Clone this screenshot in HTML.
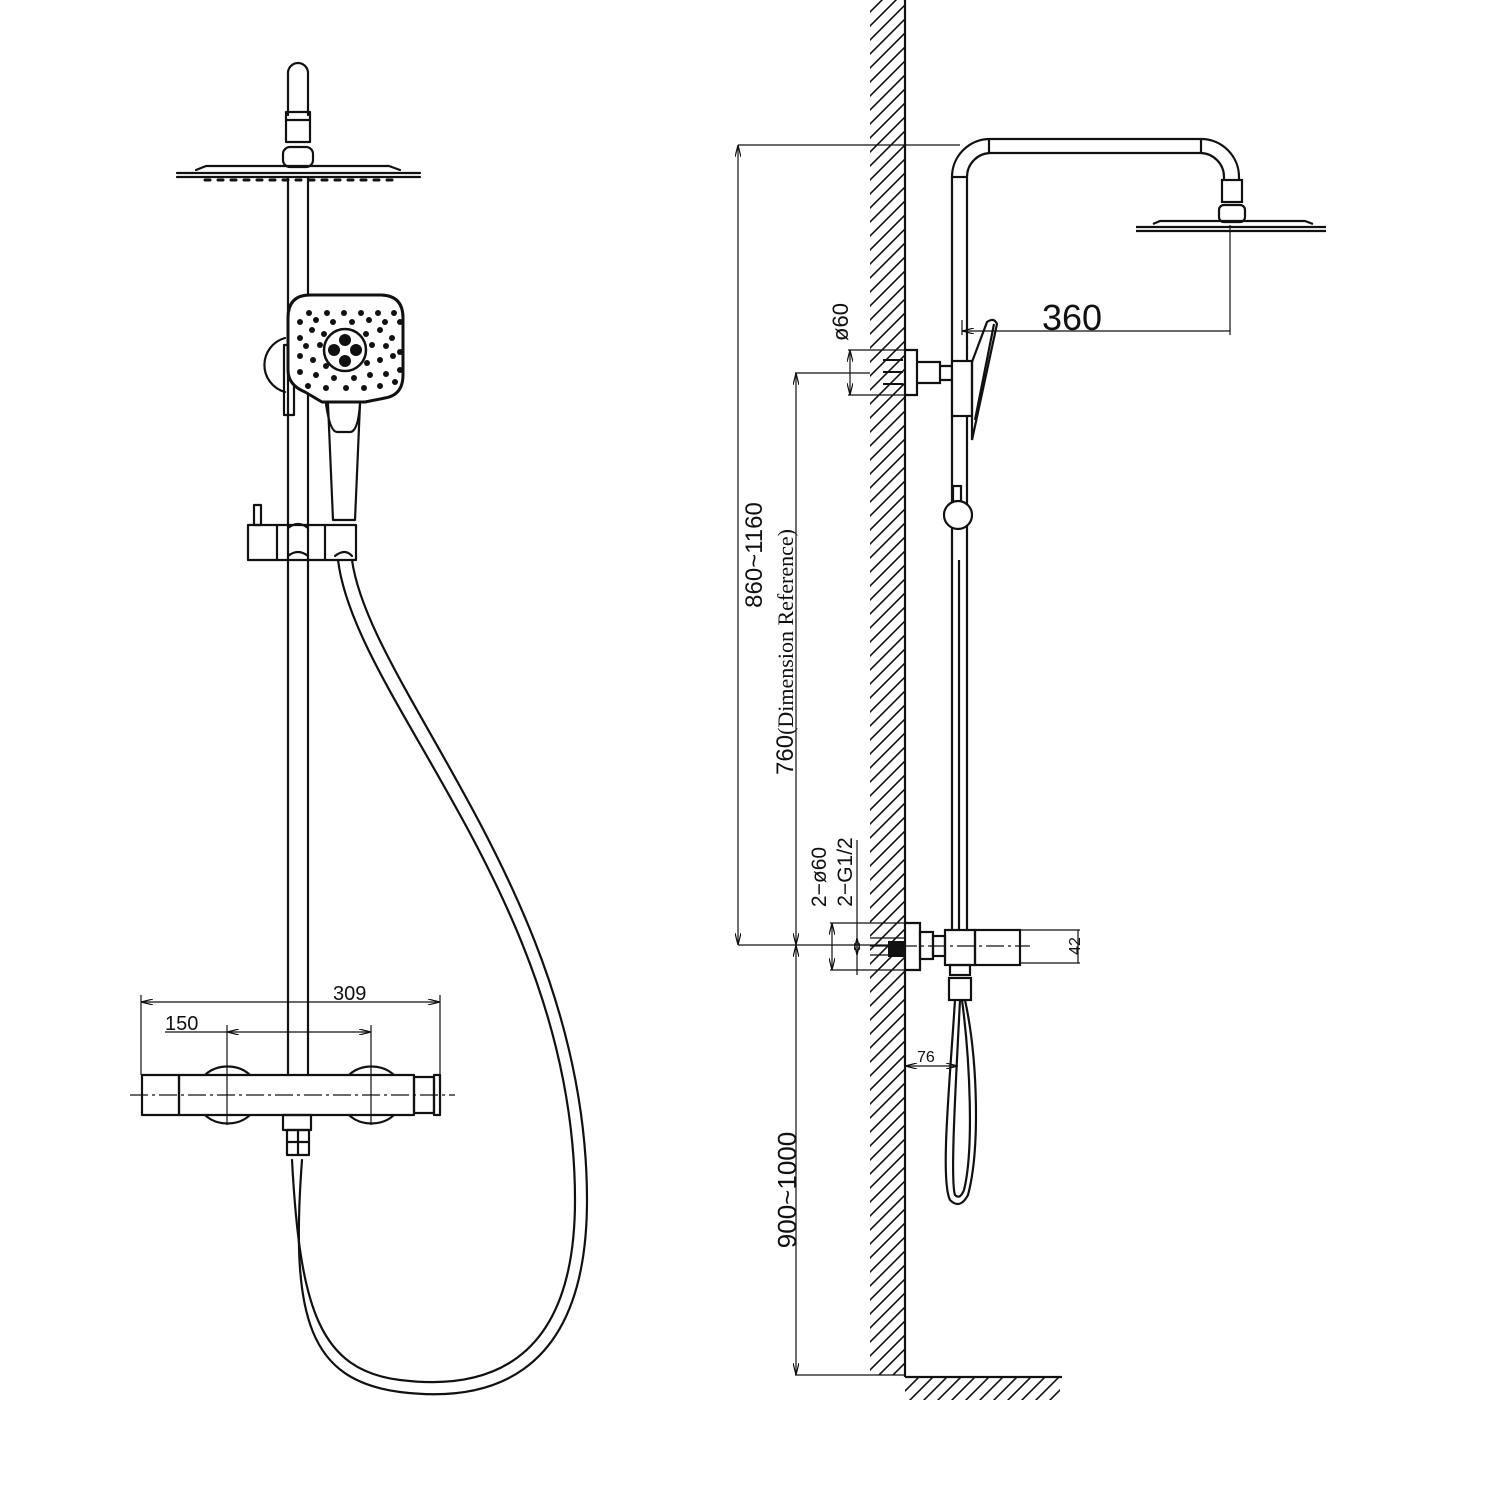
<!DOCTYPE html>
<html><head><meta charset="utf-8"><style>
html,body{margin:0;padding:0;background:#fff;}
svg{display:block;}
text{font-family:"Liberation Sans",sans-serif;fill:#111;}
</style></head><body>
<svg width="1512" height="1512" viewBox="0 0 1512 1512" xmlns="http://www.w3.org/2000/svg">
<defs>
<pattern id="hatch" width="14" height="14" patternUnits="userSpaceOnUse">
<path d="M-2,16 L16,-2 M-9,9 L9,-9 M5,23 L23,5" stroke="#111" stroke-width="1.6"/>
</pattern>
<marker id="ar" markerWidth="12" markerHeight="6" refX="12" refY="3" orient="auto-start-reverse" markerUnits="userSpaceOnUse">
<path d="M0,0 L12,3 L0,6" fill="none" stroke="#111" stroke-width="1.2"/>
</marker>
</defs>
<g fill="none" stroke="#111" stroke-width="2.2" stroke-linecap="round" stroke-linejoin="round">
<path d="M288,115 L288,73 A10,10 0 0 1 308,73 L308,115"/>
<rect x="286" y="112" width="24" height="30"/>
<line x1="286" y1="120" x2="310" y2="120"/>
<rect x="283" y="147" width="30" height="20" rx="7"/>
<path d="M177,173 L420,173 M177,177 L420,177 M196,170 L206,166 L389,166 L400,170"/>
<g stroke-width="3" stroke-dasharray="5,8"><line x1="205" y1="180" x2="395" y2="180"/></g>
<line x1="288" y1="177" x2="288" y2="1075"/>
<line x1="308" y1="177" x2="308" y2="1075"/>
<path d="M285,338 A28,28 0 0 0 285,392"/>
<rect x="284" y="345" width="10" height="70"/>
<path d="M310,295 L380,295 Q403,295 403,318 L403,375 Q403,395 385,398 L365,402 L322,402 L305,392 Q288,385 288,370 L288,318 Q288,295 310,295Z" stroke-width="3" fill="#fff"/>
<path d="M326,404 Q330,432 337,432 L350,432 Q358,432 360,404"/>
<path d="M328,404 L333,520 L355,520 L360,404"/>
<circle cx="345" cy="350" r="21" stroke-width="2.5"/>
<g fill="#111" stroke="none">
<circle cx="345" cy="340" r="6"/><circle cx="345" cy="361" r="6"/><circle cx="334" cy="350" r="6"/><circle cx="356" cy="350" r="6"/>
<circle cx="309" cy="313" r="3"/><circle cx="327" cy="313" r="3"/><circle cx="344" cy="313" r="3"/><circle cx="361" cy="313" r="3"/><circle cx="378" cy="313" r="3"/><circle cx="394" cy="313" r="3"/>
<circle cx="300" cy="322" r="3"/><circle cx="316" cy="320" r="3"/><circle cx="333" cy="322" r="3"/><circle cx="352" cy="322" r="3"/><circle cx="369" cy="320" r="3"/><circle cx="385" cy="322" r="3"/><circle cx="400" cy="322" r="3"/>
<circle cx="300" cy="338" r="3"/><circle cx="312" cy="330" r="3"/><circle cx="324" cy="334" r="3"/><circle cx="366" cy="334" r="3"/><circle cx="380" cy="330" r="3"/><circle cx="392" cy="338" r="3"/>
<circle cx="306" cy="346" r="3"/><circle cx="320" cy="345" r="3"/><circle cx="372" cy="345" r="3"/><circle cx="386" cy="346" r="3"/><circle cx="400" cy="352" r="3"/>
<circle cx="300" cy="356" r="3"/><circle cx="313" cy="360" r="3"/><circle cx="326" cy="366" r="3"/><circle cx="367" cy="363" r="3"/><circle cx="380" cy="360" r="3"/><circle cx="393" cy="356" r="3"/>
<circle cx="300" cy="372" r="3"/><circle cx="316" cy="375" r="3"/><circle cx="334" cy="378" r="3"/><circle cx="354" cy="378" r="3"/><circle cx="370" cy="375" r="3"/><circle cx="386" cy="374" r="3"/><circle cx="400" cy="370" r="3"/>
<circle cx="308" cy="386" r="3"/><circle cx="326" cy="388" r="3"/><circle cx="346" cy="388" r="3"/><circle cx="364" cy="388" r="3"/><circle cx="380" cy="386" r="3"/><circle cx="395" cy="382" r="3"/>
</g>
<rect x="254" y="505" width="7" height="20"/>
<path d="M248,525 L356,525 L356,560 L248,560 Z M277,525 L277,560 M325,525 L325,560"/>
<path d="M288,528 Q298,520 308,528 M288,556 Q298,548 308,556 M335,556 Q345,548 352,556"/>
<path d="M338,560 C355,700 575,900 575,1200 C575,1370 480,1390 400,1380 C320,1370 300,1310 292,1160"/>
<path d="M352,560 C370,690 587,900 587,1200 C587,1385 480,1402 400,1392 C310,1380 290,1320 302,1160"/>
<rect x="142" y="1075" width="37" height="40"/>
<rect x="179" y="1075" width="235" height="40"/>
<rect x="414" y="1077" width="20" height="36"/>
<rect x="434" y="1075" width="6" height="40"/>
<path d="M205,1075 A30,25 0 0 1 250,1075 M205,1115 A30,25 0 0 0 250,1115 M349,1075 A30,25 0 0 1 394,1075 M349,1115 A30,25 0 0 0 394,1115"/>
<rect x="283" y="1115" width="28" height="15"/>
<rect x="287" y="1130" width="22" height="25"/>
<line x1="287" y1="1142" x2="309" y2="1142"/>
<line x1="298" y1="1130" x2="298" y2="1155"/>
</g>
<g stroke="#111" stroke-width="1.2" fill="none">
<line x1="130" y1="1095" x2="455" y2="1095" stroke-dasharray="18,4,3,4"/>
<line x1="141" y1="995" x2="141" y2="1075"/><line x1="440" y1="995" x2="440" y2="1075"/>
<line x1="141" y1="1002" x2="440" y2="1002" marker-start="url(#ar)" marker-end="url(#ar)"/>
<line x1="227" y1="1025" x2="227" y2="1125"/><line x1="371" y1="1025" x2="371" y2="1125"/>
<line x1="165" y1="1032" x2="227" y2="1032"/>
<line x1="227" y1="1032" x2="371" y2="1032" marker-start="url(#ar)" marker-end="url(#ar)"/>
</g>
<text x="333" y="1000" font-size="20">309</text>
<text x="165" y="1030" font-size="20">150</text>

<rect x="870" y="0" width="35" height="1375" fill="url(#hatch)"/>
<rect x="905" y="1378" width="155" height="22" fill="url(#hatch)"/>
<g fill="none" stroke="#111" stroke-width="2.2">
<line x1="905" y1="0" x2="905" y2="1377"/>
<line x1="905" y1="1377" x2="1062" y2="1377"/>
<path d="M952,930 L952,177 A38,38 0 0 1 990,139 L1201,139 A38,38 0 0 1 1239,177 L1239,180"/>
<path d="M967,930 L967,177 A24,24 0 0 1 990,153 L1201,153 A24,24 0 0 1 1224,177 L1224,180"/>
<line x1="952" y1="177" x2="967" y2="177"/><line x1="989" y1="139" x2="989" y2="153"/><line x1="1201" y1="139" x2="1201" y2="153"/>
<rect x="1222" y="180" width="20" height="22"/>
<rect x="1219" y="205" width="26" height="17" rx="5"/>
<path d="M1136,227 L1326,227 M1136,231 L1326,231 M1153,224 L1160,221 L1305,221 L1313,224"/>
<path d="M905,350 L917,350 L917,395 L905,395 M917,362 L940,362 L940,383 L917,383 M940,366 L952,366 M940,380 L952,380"/>
<g stroke-width="2"><path d="M883,360 L903,360 M883,372 L903,372 M883,384 L903,384"/></g>
<rect x="952" y="361" width="20" height="55" fill="#fff"/>
<path d="M972,362 L987,322 Q994,317 997,324 L972,440 L972,362 Z"/>
<path d="M994,324 L975,420"/>
<rect x="953" y="486" width="8" height="16"/>
<circle cx="958" cy="515" r="14" fill="#fff"/>
<line x1="959" y1="560" x2="959" y2="930"/>
<path d="M905,923 L920,923 L920,970 L905,970"/>
<rect x="920" y="932" width="13" height="27"/>
<rect x="933" y="936" width="12" height="20"/>
<rect x="945" y="930" width="30" height="35"/>
<rect x="975" y="930" width="45" height="35"/>
<rect x="950" y="965" width="20" height="10"/>
<rect x="949" y="978" width="22" height="22"/>
<path d="M955,1000 C950,1080 940,1180 950,1200 Q960,1210 968,1195 C980,1150 978,1060 965,1000"/>
<path d="M960,1000 C956,1080 950,1180 955,1195 Q960,1200 964,1190 C974,1150 970,1060 962,1000"/>
</g>
<rect x="888" y="941" width="17" height="16" fill="#111"/>
<g stroke="#111" stroke-width="1.2" fill="none">
<line x1="738" y1="145" x2="960" y2="145"/>
<line x1="738" y1="945" x2="905" y2="945"/>
<line x1="795" y1="373" x2="870" y2="373"/>
<line x1="795" y1="1375" x2="905" y2="1375"/>
<line x1="738" y1="145" x2="738" y2="945" marker-start="url(#ar)" marker-end="url(#ar)"/>
<line x1="796" y1="373" x2="796" y2="945" marker-start="url(#ar)" marker-end="url(#ar)"/>
<line x1="796" y1="945" x2="796" y2="1375" marker-start="url(#ar)" marker-end="url(#ar)"/>
<line x1="848" y1="350" x2="905" y2="350"/><line x1="848" y1="395" x2="905" y2="395"/>
<line x1="850" y1="350" x2="850" y2="395" marker-start="url(#ar)" marker-end="url(#ar)"/>
<line x1="830" y1="923" x2="905" y2="923"/><line x1="830" y1="970" x2="905" y2="970"/>
<line x1="832" y1="923" x2="832" y2="970" marker-start="url(#ar)" marker-end="url(#ar)"/>
<line x1="857" y1="840" x2="857" y2="975"/>
<line x1="857" y1="938" x2="857" y2="955" marker-start="url(#ar)" marker-end="url(#ar)"/>
<line x1="870" y1="938" x2="905" y2="938"/><line x1="870" y1="955" x2="905" y2="955"/>
<line x1="870" y1="946" x2="1030" y2="946" stroke-dasharray="18,4,3,4"/>
<line x1="1020" y1="930" x2="1080" y2="930"/><line x1="1020" y1="963" x2="1080" y2="963"/>
<line x1="1078" y1="930" x2="1078" y2="963"/>
<line x1="962" y1="320" x2="962" y2="335"/><line x1="1230" y1="225" x2="1230" y2="335"/>
<line x1="962" y1="331" x2="1230" y2="331" marker-start="url(#ar)"/>
<line x1="905" y1="1066" x2="958" y2="1066" marker-start="url(#ar)" marker-end="url(#ar)"/>
</g>
<text x="1042" y="330" font-size="36">360</text>
<text x="917" y="1062" font-size="16">76</text>
<text transform="translate(762,555) rotate(-90)" font-size="24" text-anchor="middle">860~1160</text>
<text transform="translate(793,652) rotate(-90)" font-size="24" text-anchor="middle">760<tspan font-family="Liberation Serif" font-size="22">(Dimension Reference)</tspan></text>
<text transform="translate(796,1190) rotate(-90)" font-size="26" text-anchor="middle">900~1000</text>
<text transform="translate(848,322) rotate(-90)" font-size="22" text-anchor="middle">ø60</text>
<text transform="translate(826,877) rotate(-90)" font-size="21" text-anchor="middle">2−ø60</text>
<text transform="translate(852,872) rotate(-90)" font-size="21" text-anchor="middle">2−G1/2</text>
<text transform="translate(1080,946) rotate(-90)" font-size="16" text-anchor="middle">42</text>
</svg>
</body></html>
